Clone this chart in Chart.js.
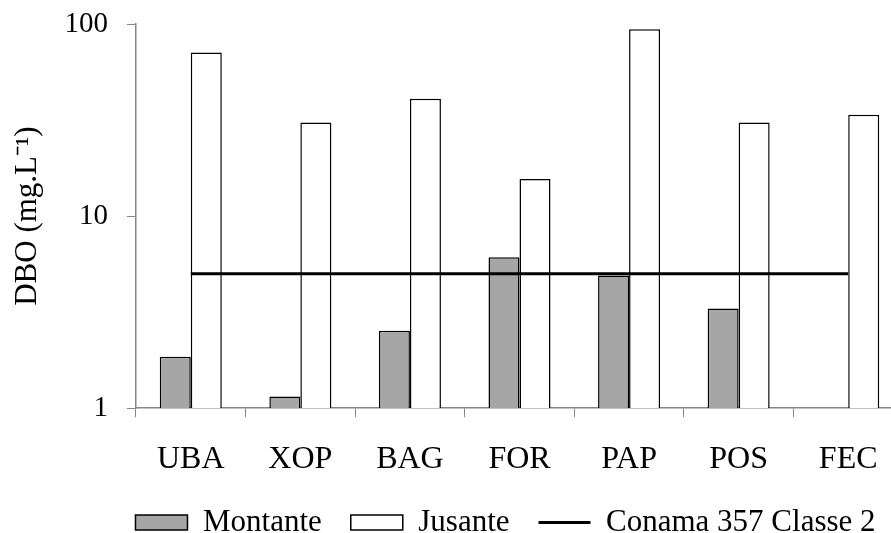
<!DOCTYPE html>
<html>
<head>
<meta charset="utf-8">
<script src="https://cdn.jsdelivr.net/npm/chart.js@4/dist/chart.umd.min.js"></script>
<style>
  html, body { margin: 0; padding: 0; background: #fff; overflow: hidden; }
  #wrap { width: 903px; height: 533px; }
</style>
</head>
<body>
<div id="wrap"><canvas id="dbo"></canvas></div>
<script>
// DBO per sampling point, upstream (montante) and downstream (jusante)
const sites = ['UBA', 'XOP', 'BAG', 'FOR', 'PAP', 'POS', 'FEC'];
const montante = [1.85, 1.15, 2.53, 6.1, 4.9, 3.3, null];
const jusante = [71, 30.7, 40.8, 15.6, 94, 30.7, 33.7];
const conamaLimit = [5, 5, 5, 5, 5, 5, 5];
const yTicks = [1, 10, 100];

const serif = 'Liberation Serif, Times New Roman, serif';
const axisGray = '#868686';

// nudge the legend row into place after layout
const legendShift = {
  id: 'legendShift',
  afterLayout(chart) {
    const lg = chart.legend;
    if (!lg) return;
    lg.left += 54;
    lg.right += 54;
    lg.top -= 23.5;
    lg.bottom -= 23.5;
  },
};

const ctx = document.getElementById('dbo').getContext('2d');

new Chart(ctx, {
  data: {
    labels: sites,
    datasets: [
      {
        type: 'bar',
        label: 'Montante',
        data: montante,
        backgroundColor: '#a6a6a6',
        borderColor: '#000',
        borderWidth: 1.5,
        pointStyle: 'rect',
        order: 1,
      },
      {
        type: 'bar',
        label: 'Jusante',
        data: jusante,
        backgroundColor: '#fff',
        borderColor: '#000',
        borderWidth: 1.5,
        pointStyle: 'rect',
        order: 1,
      },
      {
        type: 'line',
        label: 'Conama 357 Classe 2',
        data: conamaLimit,
        borderColor: '#000',
        backgroundColor: '#000',
        borderWidth: 3,
        pointRadius: 0,
        pointStyle: 'line',
        order: 0,
      },
    ],
  },
  plugins: [legendShift],
  options: {
    responsive: true,
    maintainAspectRatio: false,
    animation: false,
    layout: { padding: { top: 24, right: 0, bottom: -38.5, left: 0 } },
    datasets: {
      bar: { categoryPercentage: 0.566, barPercentage: 1 },
    },
    plugins: {
      tooltip: { enabled: false },
      legend: {
        position: 'bottom',
        labels: {
          usePointStyle: true,
          pointStyleWidth: 52,
          boxHeight: 15,
          padding: 29,
          color: '#000',
          font: { family: serif, size: 31 },
          sort: (a, b) => a.datasetIndex - b.datasetIndex,
          generateLabels: (chart) => {
            const items = Chart.defaults.plugins.legend.labels.generateLabels(chart);
            items.forEach((item) => {
              const ds = chart.data.datasets[item.datasetIndex];
              item.pointStyle = ds.pointStyle;
              item.lineWidth = ds.type === 'line' ? 3 : 1.5;
            });
            return items;
          },
        },
      },
    },
    scales: {
      x: {
        grid: {
          offset: true,
          drawOnChartArea: false,
          drawTicks: true,
          tickLength: 9,
          color: axisGray,
        },
        border: { color: axisGray, width: 1.5 },
        ticks: {
          color: '#000',
          padding: 23,
          font: { family: serif, size: 32 },
        },
      },
      y: {
        type: 'logarithmic',
        min: 1,
        max: 100,
        afterBuildTicks: (scale) => {
          scale.ticks = yTicks.map((v) => ({ value: v }));
        },
        afterFit: (scale) => {
          scale.width = 136;
          scale.paddingTop = 0;
          scale.paddingBottom = 0;
        },
        grid: {
          drawOnChartArea: false,
          drawTicks: true,
          tickLength: 9,
          color: axisGray,
        },
        border: { color: axisGray, width: 1.5 },
        ticks: {
          color: '#000',
          padding: 19,
          font: { family: serif, size: 29 },
          callback: (v) => String(v),
        },
        title: {
          display: true,
          text: 'DBO (mg.L⁻¹)',
          color: '#000',
          padding: { top: 9, bottom: 0 },
          font: { family: serif, size: 31 },
        },
      },
    },
  },
});
</script>
</body>
</html>
